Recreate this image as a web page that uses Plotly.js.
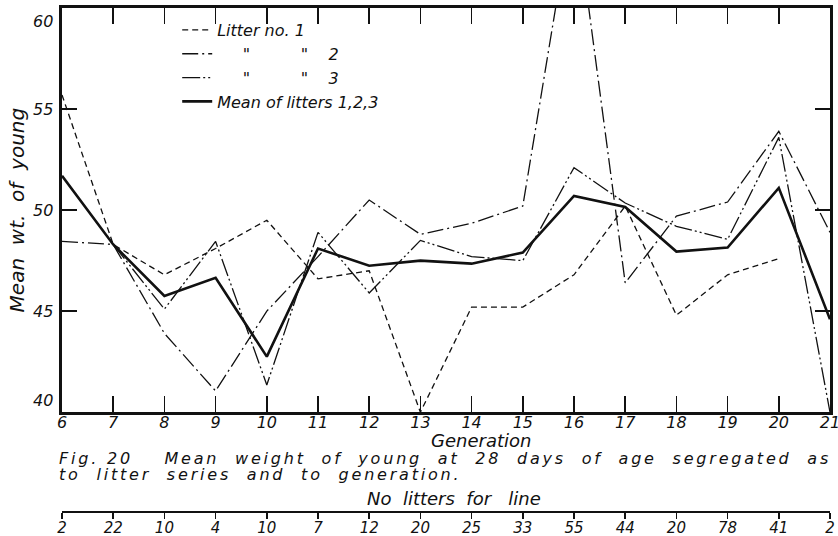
<!DOCTYPE html>
<html>
<head>
<meta charset="utf-8">
<script src="https://cdn.plot.ly/plotly-3.0.1.min.js"></script>
<style>
  html, body { margin: 0; padding: 0; background: #ffffff; }
  #chart { width: 838px; height: 536px; }
  /* open lettering for the two caption lines (annotations 6 and 7) */
  #chart g.annotation[data-index="6"] text,
  #chart g.annotation[data-index="7"] text { letter-spacing: 2.8px; }
</style>
</head>
<body>
<div id="chart"></div>
<script>
// Mean weight of young at 28 days, by litter series and generation
const generations = [6, 7, 8, 9, 10, 11, 12, 13, 14, 15, 16, 17, 18, 19, 20, 21];
const litter1 = [55.7, 48.3, 46.8, 48.1, 49.5, 46.6, 47.0, 40.0, 45.2, 45.2, 46.8, 50.2, 44.8, 46.8, 47.6, null];
const litter2 = [48.45, 48.3, 43.9, 41.05, 45.0, 47.7, 50.5, 48.8, 49.35, 50.2, 65.5, 46.4, 49.7, 50.4, 53.9, 48.9];
const litter3 = [null, 48.3, 45.1, 48.45, 41.35, 48.9, 45.9, 48.5, 47.7, 47.5, 52.1, 50.35, 49.2, 48.55, 53.6, 40.0];
const meanLitters = [51.7, 48.3, 45.75, 46.65, 42.75, 48.1, 47.25, 47.5, 47.35, 47.9, 50.7, 50.15, 47.95, 48.15, 51.1, 44.6];
const littersPerLine = ['2', '22', '10', '4', '10', '7', '12', '20', '25', '33', '55', '44', '20', '78', '41', '2'];
const yTickVals = [40, 45, 50, 55, 60];

const NB = '\u00a0';
const sp = n => NB.repeat(n);
const spaced = (s, n) => s.split(' ').join(sp(n));
const seriesNames = [
  'Litter' + NB + 'no.' + NB + '1',
  sp(5) + '"' + sp(10) + '"' + sp(4) + '2',
  sp(5) + '"' + sp(10) + '"' + sp(4) + '3',
  'Mean of litters 1,2,3'
];

const FONT = 'DejaVu Sans, Liberation Sans, sans-serif';
const ink = '#111111';
const italic = (size) => ({ family: FONT, size: size, color: ink, style: 'italic' });

const traces = [
  { x: generations, y: litter1, name: seriesNames[0], mode: 'lines',
    line: { color: ink, width: 1.3, dash: '6px,4px' } },
  { x: generations, y: litter2, name: seriesNames[1], mode: 'lines',
    line: { color: ink, width: 1.3, dash: '16px,4px,2px,4px' } },
  { x: generations, y: litter3, name: seriesNames[2], mode: 'lines',
    line: { color: ink, width: 1.3, dash: '18px,3px,2px,3px,2px,3px' } },
  { x: generations, y: meanLitters, name: seriesNames[3], mode: 'lines',
    line: { color: ink, width: 2.6 } },
  // carrier for the litter-count scale below the caption
  { x: generations, y: generations.map(() => null), xaxis: 'x2', yaxis: 'y',
    mode: 'lines', showlegend: false, hoverinfo: 'skip' }
];

const yDomainBottom = 0.198;

const annotations = yTickVals.map((v, i) => ({
  xref: 'paper', yref: 'y', x: 0, y: v, xanchor: 'right',
  yanchor: i === yTickVals.length - 1 ? 'top' : (i === 0 ? 'bottom' : 'middle'),
  xshift: -7, yshift: i === yTickVals.length - 1 ? -2 : 0,
  text: String(v), showarrow: false, font: italic(16)
}));

annotations.push(
  { xref: 'paper', yref: 'paper', x: 0.546, y: 0.141, xanchor: 'center', yanchor: 'middle',
    text: 'Generation', showarrow: false, font: italic(18) },
  { xref: 'paper', yref: 'paper', x: 0, y: 0.106, xanchor: 'left', yanchor: 'middle', align: 'left',
    xshift: -5,
    text: 'Fig.' + NB + '20' + sp(4) + spaced('Mean weight of young at 28 days of age segregated as', 2),
    showarrow: false, font: italic(16) },
  { xref: 'paper', yref: 'paper', x: 0, y: 0.075, xanchor: 'left', yanchor: 'middle', align: 'left',
    xshift: -5,
    text: spaced('to litter series and to generation.', 2), showarrow: false, font: italic(16) },
  { xref: 'paper', yref: 'paper', x: 0.511, y: 0.027, xanchor: 'center', yanchor: 'middle',
    text: 'No' + sp(2) + 'litters' + sp(2) + 'for' + sp(3) + 'line', showarrow: false, font: italic(18) }
);

const layout = {
  width: 838, height: 536,
  margin: { l: 62, r: 8, t: 8, b: 24 },
  paper_bgcolor: '#ffffff', plot_bgcolor: '#ffffff',
  font: italic(16),
  showlegend: true,
  legend: {
    x: 0.15, y: 0.99, xanchor: 'left', yanchor: 'top',
    bgcolor: 'rgba(0,0,0,0)', borderwidth: 0,
    font: italic(16), tracegroupgap: 0
  },
  xaxis: {
    range: [6, 21], domain: [0, 1], anchor: 'y',
    tickmode: 'array', tickvals: generations, ticktext: generations.map(String),
    ticks: 'inside', ticklen: 16, tickwidth: 1.6, tickcolor: ink,
    ticklabeloverflow: 'allow', ticklabelstandoff: -6,
    showline: true, linewidth: 2.6, linecolor: ink, mirror: 'ticks',
    showgrid: false, zeroline: false, tickfont: italic(16)
  },
  xaxis2: {
    range: [6, 21], domain: [0, 1], anchor: 'free', position: 0, overlaying: 'x',
    tickmode: 'array', tickvals: generations, ticktext: littersPerLine,
    ticks: 'outside', ticklen: 6, tickwidth: 1.6, tickcolor: ink,
    ticklabeloverflow: 'allow', ticklabelstandoff: -4,
    showline: true, linewidth: 2, linecolor: ink,
    showgrid: false, zeroline: false, tickfont: italic(15)
  },
  yaxis: {
    range: [40, 60], domain: [yDomainBottom, 1],
    tickmode: 'array', tickvals: yTickVals,
    ticks: 'inside', ticklen: 15, tickwidth: 1.6, tickcolor: ink,
    showticklabels: false,
    showline: true, linewidth: 2.6, linecolor: ink, mirror: 'ticks',
    showgrid: false, zeroline: false,
    title: { text: 'Mean' + sp(2) + 'wt.' + sp(2) + 'of' + sp(2) + 'young', font: italic(20), standoff: 30 }
  },
  annotations: annotations
};

Plotly.newPlot('chart', traces, layout, { staticPlot: true, displayModeBar: false });
</script>
</body>
</html>
